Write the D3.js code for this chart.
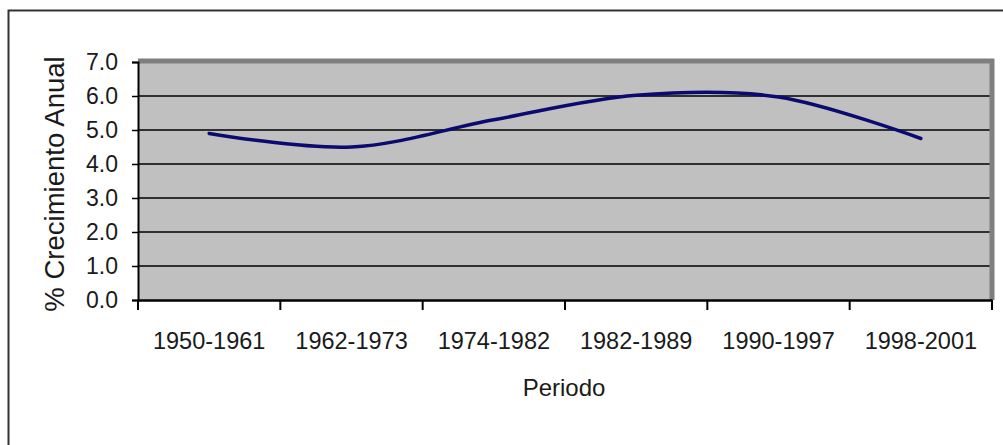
<!DOCTYPE html>
<html>
<head>
<meta charset="utf-8">
<script src="https://cdn.jsdelivr.net/npm/d3@7/dist/d3.min.js"></script>
<style>
  html, body { margin: 0; padding: 0; background: #fff; }
  svg { display: block; }
  text { font-family: "Liberation Sans", Arial, sans-serif; fill: #1a1a1a; }
</style>
</head>
<body>
<svg id="chart" width="1003" height="445"></svg>
<script>
// Periods on the horizontal axis
const periodos = ["1950-1961", "1962-1973", "1974-1982", "1982-1989", "1990-1997", "1998-2001"];
// Average annual growth (%) for each period
const crecimiento = [4.9, 4.5, 5.3, 6.02, 5.97, 4.75];
// Value axis ticks
const yTicks = [0, 1, 2, 3, 4, 5, 6, 7];

const svg = d3.select("#chart");
const W = 1003, H = 445;

// Chart frame
svg.append("rect")
  .attr("x", 8.5).attr("y", 10.5)
  .attr("width", W + 20).attr("height", H + 20)
  .attr("fill", "#fff")
  .attr("stroke", "#333").attr("stroke-width", 2);

const plot = { left: 138, right: 992, top: 62, bottom: 300 };

const x = d3.scaleBand().domain(periodos).range([plot.left, plot.right]).padding(0);
const y = d3.scaleLinear().domain([0, 7]).range([plot.bottom, plot.top]);

// Plot area background
svg.append("rect")
  .attr("x", plot.left).attr("y", plot.top)
  .attr("width", plot.right - plot.left).attr("height", plot.bottom - plot.top)
  .attr("fill", "#c0c0c0");

// Horizontal gridlines
svg.append("g")
  .selectAll("line")
  .data(yTicks.filter(d => d > 0 && d < 7))
  .join("line")
  .attr("x1", plot.left).attr("x2", plot.right)
  .attr("y1", d => y(d)).attr("y2", d => y(d))
  .attr("stroke", "#000").attr("stroke-width", 1.5);

// Plot area border (top and right edges)
svg.append("path")
  .attr("d", `M${plot.left},${plot.top - 1}H${plot.right}V${plot.bottom}`)
  .attr("fill", "none")
  .attr("stroke", "#7f7f7f").attr("stroke-width", 5);

// Growth line, smoothed
const line = d3.line()
  .x((d, i) => x(periodos[i]) + x.bandwidth() / 2)
  .y(d => y(d))
  .curve(d3.curveCardinal.tension(0));

svg.append("path")
  .datum(crecimiento)
  .attr("d", line)
  .attr("fill", "none")
  .attr("stroke", "#0a0a70")
  .attr("stroke-width", 3.5)
  .attr("stroke-linecap", "round");

// Y axis
const yAxis = svg.append("g")
  .attr("transform", `translate(${plot.left},0)`)
  .call(d3.axisLeft(y).tickValues(yTicks).tickFormat(d3.format(".1f")).tickSize(6).tickPadding(14));
yAxis.select(".domain").attr("stroke", "#000").attr("stroke-width", 2);
yAxis.selectAll(".tick line").attr("stroke", "#000").attr("stroke-width", 1.5);
yAxis.selectAll(".tick text")
  .style("font-family", '"Liberation Sans", Arial, sans-serif')
  .style("font-size", "23px").attr("fill", "#1a1a1a");

// X axis: labels centered in each band, ticks on band edges
const xAxis = svg.append("g")
  .attr("transform", `translate(0,${plot.bottom})`)
  .call(d3.axisBottom(x).tickSize(0).tickPadding(32).tickSizeOuter(0));
xAxis.select(".domain").attr("stroke", "#000").attr("stroke-width", 2.5);
xAxis.selectAll(".tick text")
  .style("font-family", '"Liberation Sans", Arial, sans-serif')
  .style("font-size", "23.5px").attr("fill", "#1a1a1a");

const edges = periodos.map(p => x(p)).concat([x.range()[1]]);
xAxis.append("g")
  .selectAll("line")
  .data(edges)
  .join("line")
  .attr("x1", d => d).attr("x2", d => d)
  .attr("y1", 0).attr("y2", 10)
  .attr("stroke", "#000").attr("stroke-width", 2);

// Axis titles
svg.append("text")
  .attr("transform", `translate(64,${(plot.top + plot.bottom) / 2 + 3}) rotate(-90)`)
  .attr("text-anchor", "middle")
  .style("font-size", "27.5px")
  .text("% Crecimiento Anual");

svg.append("text")
  .attr("x", (plot.left + plot.right) / 2 - 1)
  .attr("y", 396)
  .attr("text-anchor", "middle")
  .style("font-size", "24px")
  .text("Periodo");
</script>
</body>
</html>
